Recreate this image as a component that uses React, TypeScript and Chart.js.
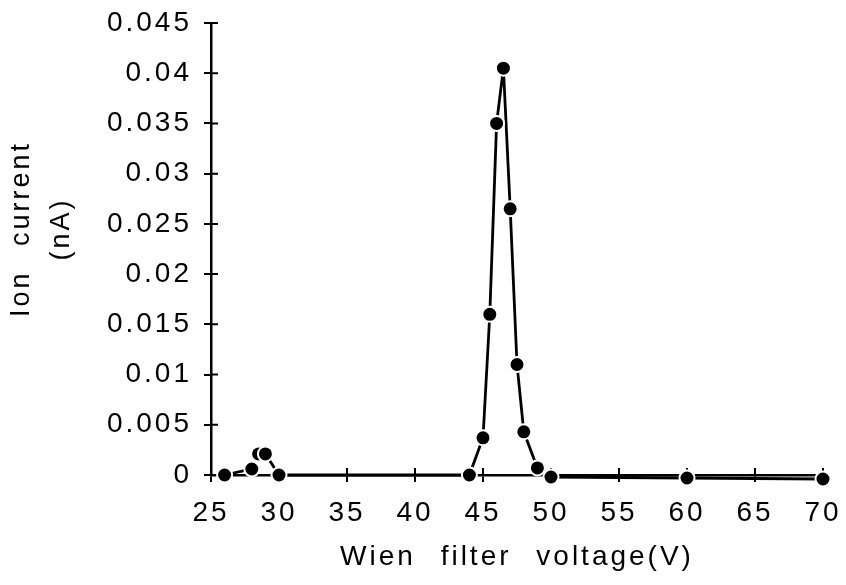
import React, { useEffect, useRef } from 'react';
import { Chart, registerables } from 'chart.js';

Chart.register(...registerables);

const voltages = [26, 28, 28.5, 29, 30, 44, 45, 45.5, 46, 46.5, 47, 47.5, 48, 49, 50, 60, 70];
const currents = [0, 0.0006, 0.0021, 0.0021, 0, 0, 0.0037, 0.016, 0.035, 0.0405, 0.0265, 0.011, 0.0043, 0.0007, -0.0002, -0.0003, -0.0004];
const xTickValues = [25, 30, 35, 40, 45, 50, 55, 60, 65, 70];
const yTickValues = [0, 0.005, 0.01, 0.015, 0.02, 0.025, 0.03, 0.035, 0.04, 0.045];
const yTickLabels = ['0', '0.005', '0.01', '0.015', '0.02', '0.025', '0.03', '0.035', '0.04', '0.045'];
const xTitle = 'Wien filter voltage(V)';
const yTitleLines = ['Ion current', '(nA)'];

const FONT = '"Liberation Sans", Arial, Helvetica, sans-serif';
const FONT_SIZE = 28;
const INK = '#000';

const spacingPlugin = {
  id: 'spacing',
  beforeUpdate(chart: any) {
    chart.ctx.letterSpacing = '3px';
    chart.ctx.wordSpacing = '14px';
  },
  beforeDraw(chart: any) {
    chart.ctx.letterSpacing = '3px';
    chart.ctx.wordSpacing = '14px';
  },
};

const innerTicksPlugin = {
  id: 'innerTicks',
  beforeDatasetsDraw(chart: any) {
    const { ctx } = chart;
    const xs = chart.scales.x;
    const ys = chart.scales.y;
    ctx.save();
    ctx.strokeStyle = INK;
    ctx.lineWidth = 2;
    ctx.beginPath();
    xs.ticks.forEach((t: any) => {
      const px = xs.getPixelForValue(t.value);
      ctx.moveTo(px, xs.top);
      ctx.lineTo(px, xs.top - 7);
    });
    ys.ticks.forEach((t: any) => {
      const py = ys.getPixelForValue(t.value);
      ctx.moveTo(ys.right, py);
      ctx.lineTo(ys.right + 7, py);
    });
    ctx.stroke();
    ctx.restore();
  },
};

const yTitlePlugin = {
  id: 'yTitle',
  afterDraw(chart: any) {
    const { ctx } = chart;
    ctx.save();
    ctx.fillStyle = INK;
    ctx.font = `${FONT_SIZE - 1}px ${FONT}`;
    ctx.textAlign = 'center';
    ctx.textBaseline = 'middle';
    const cy = 221;
    const xs = [14, 54];
    yTitleLines.forEach((line, i) => {
      ctx.save();
      ctx.translate(xs[i], cy);
      ctx.rotate(-Math.PI / 2);
      ctx.fillText(line, 0, 0);
      ctx.restore();
    });
    ctx.restore();
  },
};

export default function App() {
  const canvasRef = useRef<HTMLCanvasElement | null>(null);

  useEffect(() => {
    if (!canvasRef.current) return;
    const chart = new Chart(canvasRef.current, {
      type: 'line',
      data: {
        datasets: [
          {
            data: voltages.map((v, i) => ({ x: v, y: currents[i] })),
            borderColor: INK,
            borderWidth: 2.8,
            backgroundColor: INK,
            pointBackgroundColor: INK,
            pointBorderColor: '#fff',
            pointBorderWidth: 2,
            pointRadius: 7.5,
            tension: 0,
            fill: false,
            clip: false as any,
          },
        ],
      },
      options: {
        responsive: false,
        animation: false,
        layout: { padding: { top: 15, right: 15, left: 0, bottom: 0 } },
        plugins: {
          legend: { display: false },
          tooltip: { enabled: false },
          title: { display: false },
        },
        scales: {
          x: {
            type: 'linear',
            min: 25,
            max: 70,
            afterBuildTicks: (scale: any) => {
              scale.ticks = xTickValues.map((v) => ({ value: v }));
            },
            afterFit: (scale: any) => {
              scale.height = 102;
              scale.paddingLeft = 0;
              scale.paddingRight = 0;
            },
            grid: {
              drawOnChartArea: false,
              drawTicks: true,
              tickLength: 7,
              color: INK,
              lineWidth: 2,
            },
            border: { display: true, color: INK, width: 2.5 },
            ticks: {
              color: INK,
              padding: 14,
              maxRotation: 0,
              autoSkip: false,
              font: { family: FONT, size: FONT_SIZE },
              callback: (v: any) => String(v),
            },
            title: {
              display: true,
              text: xTitle,
              color: INK,
              font: { family: FONT, size: FONT_SIZE, lineHeight: 1.2 },
              padding: { top: 0, bottom: 3 },
            },
          },
          y: {
            type: 'linear',
            min: 0,
            max: 0.045,
            afterBuildTicks: (scale: any) => {
              scale.ticks = yTickValues.map((v) => ({ value: v }));
            },
            afterFit: (scale: any) => {
              scale.width = 203;
              scale.paddingTop = 0;
              scale.paddingBottom = 0;
            },
            grid: {
              drawOnChartArea: false,
              drawTicks: true,
              tickLength: 7,
              color: INK,
              lineWidth: 2,
            },
            border: { display: true, color: INK, width: 2.5 },
            ticks: {
              color: INK,
              padding: 12,
              autoSkip: false,
              font: { family: FONT, size: FONT_SIZE },
              callback: (_v: any, i: number) => yTickLabels[i],
            },
            title: { display: false },
          },
        },
      },
      plugins: [spacingPlugin, innerTicksPlugin, yTitlePlugin],
    });
    return () => chart.destroy();
  }, []);

  return (
    <div style={{ width: 830, height: 569 }}>
      <canvas ref={canvasRef} width={830} height={569} style={{ display: 'block' }} />
    </div>
  );
}
